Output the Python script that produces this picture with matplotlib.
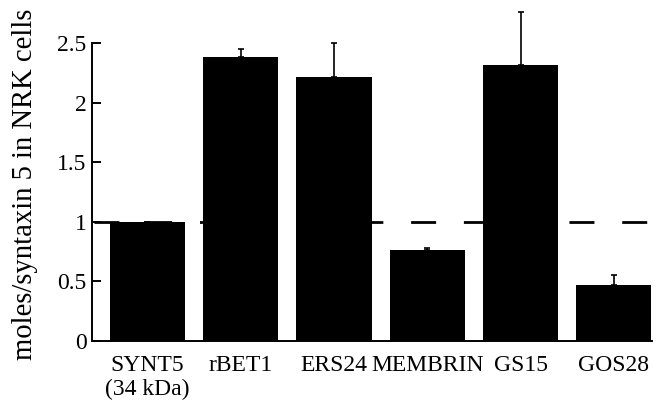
import numpy as np
import matplotlib
matplotlib.use("Agg")
import matplotlib.pyplot as plt

plt.rcParams["font.family"] = ["Liberation Serif", "DejaVu Serif"]
plt.rcParams["lines.scale_dashes"] = False

proteins = ["SYNT5\n(34 kDa)", "rBET1", "ERS24", "MEMBRIN", "GS15", "GOS28"]
moles = [1.0, 2.385, 2.215, 0.763, 2.313, 0.47]
err_up = [0.0, 0.062, 0.285, 0.015, 0.447, 0.081]

fig = plt.figure(figsize=(6.6, 4.09), dpi=100)
ax = fig.add_axes([0.1394, 0.1663, 0.8485, 0.7286])

x = np.arange(len(proteins))
# reference level of syntaxin 5
ax.axhline(1.0, color="black", lw=2.0, linestyle=(36.6, (18, 20)), zorder=1)

ax.bar(x, moles, width=0.805, color="black", zorder=2)
ax.errorbar(x, moles, yerr=[np.zeros(len(x)), err_up], fmt="none",
            ecolor="black", elinewidth=1.2, capsize=2.5, capthick=1.2,
            clip_on=False, zorder=3)

ax.set_xlim(-0.595, 5.41)
ax.set_ylim(0, 2.5)
ax.set_yticks([0, 0.5, 1, 1.5, 2, 2.5])
ax.set_yticklabels(["0", "0.5", "1", "1.5", "2", "2.5"])
ax.set_xticks(x)
ax.set_xticklabels(proteins)

ax.spines["top"].set_visible(False)
ax.spines["right"].set_visible(False)
ax.spines["left"].set_linewidth(1.4)
ax.spines["bottom"].set_linewidth(1.4)

ax.tick_params(axis="y", direction="in", length=6.5, width=1.4,
               labelsize=17, pad=4)
ax.tick_params(axis="x", length=0, labelsize=17, pad=10)

ax.set_ylabel("moles/syntaxin 5 in NRK cells", fontsize=20.6)
ax.yaxis.set_label_coords(-0.097, 0.527)

fig.savefig("out.png", dpi=100)
